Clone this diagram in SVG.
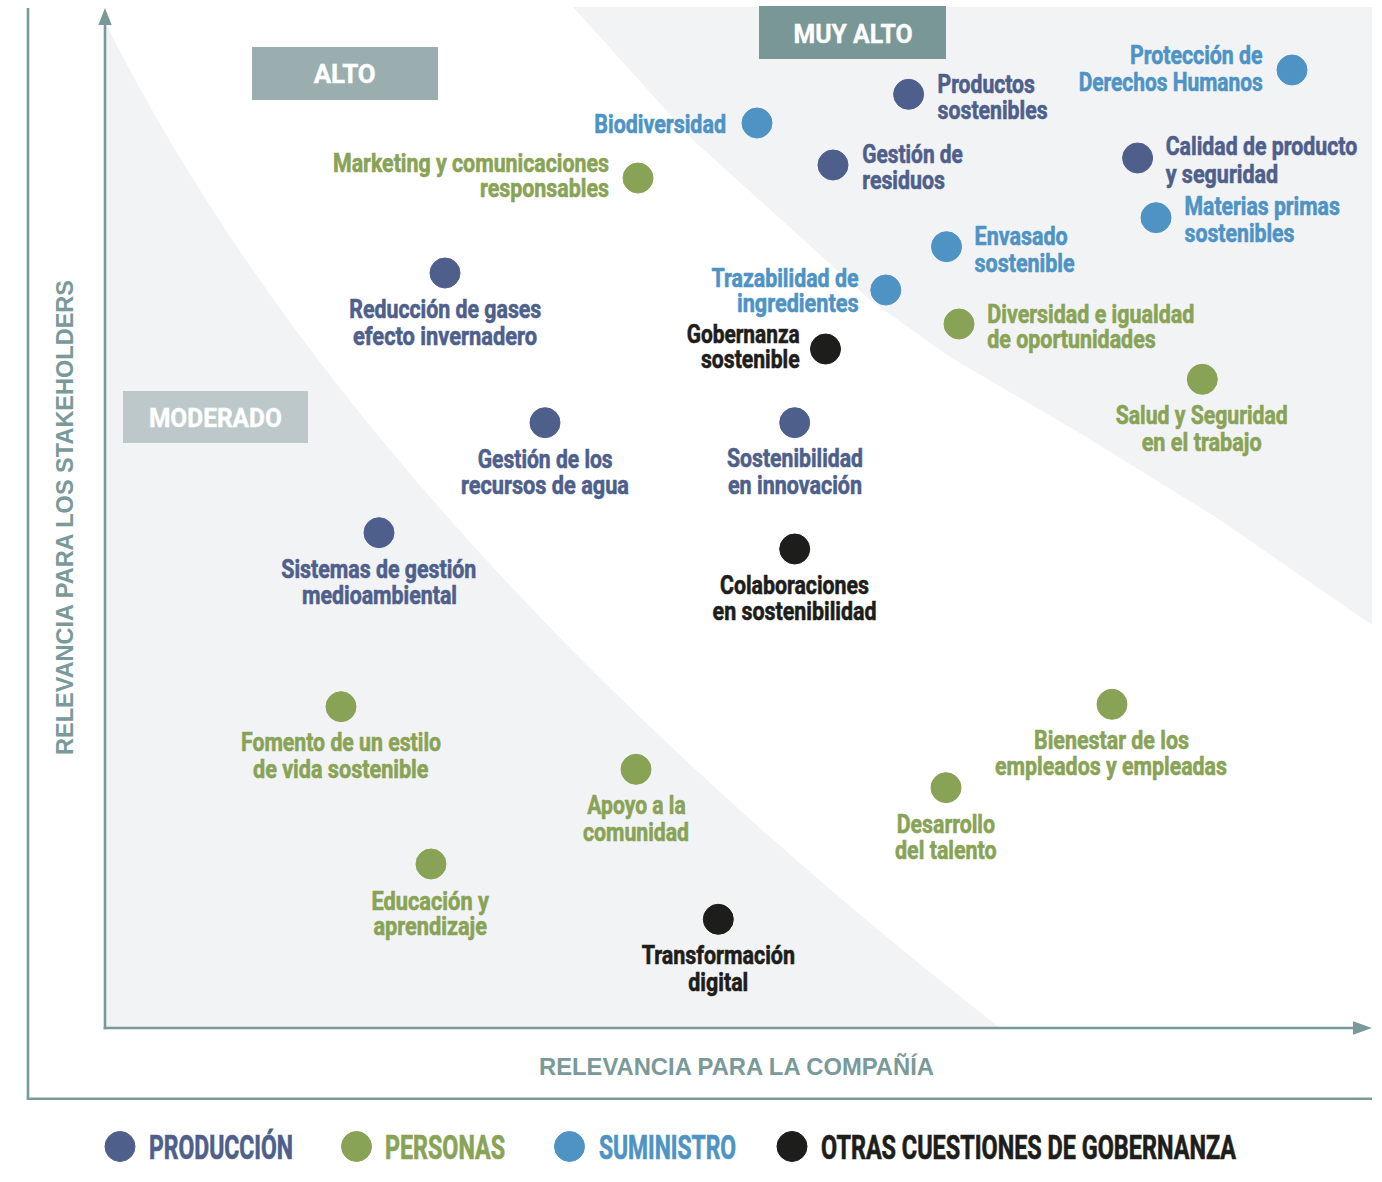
<svg xmlns="http://www.w3.org/2000/svg" width="1382" height="1182" viewBox="0 0 1382 1182">
<defs>
<style>
.t{font-family:Roboto,"Liberation Sans","DejaVu Sans",sans-serif;font-weight:700;font-size:25.5px;stroke-width:0.6px}
.lg{font-family:Roboto,"Liberation Sans","DejaVu Sans",sans-serif;font-weight:700;font-size:32.5px;stroke-width:0.7px}
.bx{font-family:Roboto,"Liberation Sans","DejaVu Sans",sans-serif;font-weight:700;font-size:25.5px;fill:#ffffff;stroke:#ffffff;stroke-width:0.4px;text-anchor:middle}
.ax{font-family:"Liberation Sans",Arial,sans-serif;font-weight:700;font-size:23px;fill:#7a9999}
.prod{fill:#4e5f8b;stroke:#4e5f8b}.pers{fill:#89a356;stroke:#89a356}.sum{fill:#4e93c4;stroke:#4e93c4}.gob{fill:#1d1d1b;stroke:#1d1d1b}
circle{stroke:none}
.line{stroke:#7a9999;stroke-width:2.6;fill:none}
.zone{fill:#f2f3f5}
</style>
</defs>
<rect width="1382" height="1182" fill="#ffffff"/>
<g id="zones">
<path class="zone" d="M573,7 L693,140 L870,300 L950,357 L1083,435 L1217,518 L1372,625 L1372,7 Z"/>
<path class="zone" d="M105,22 Q355,523 1000,1028 L105,1028 Z"/>
</g>
<g id="axes">
<line class="line" x1="28" y1="8" x2="28" y2="1099"/>
<line class="line" x1="26.7" y1="1098.7" x2="1372" y2="1098.7"/>
<line class="line" x1="105" y1="1029.3" x2="105" y2="22"/>
<line class="line" x1="103.7" y1="1028" x2="1356" y2="1028"/>
<polygon points="105,8 98.3,25 111.7,25" fill="#7a9999"/>
<polygon points="1372,1028 1353,1021.3 1353,1034.7" fill="#7a9999"/>
<text class="ax" transform="translate(73,517.5) rotate(-90)" text-anchor="middle" textLength="475" lengthAdjust="spacingAndGlyphs">RELEVANCIA PARA LOS STAKEHOLDERS</text>
<text class="ax" x="539" y="1075" textLength="395" lengthAdjust="spacingAndGlyphs">RELEVANCIA PARA LA COMPAÑÍA</text>
</g>
<g id="level-alto">
<rect x="252" y="47" width="186" height="53" fill="#9aaeb0"/>
<text class="bx" x="344.7" y="83.3" textLength="62" lengthAdjust="spacingAndGlyphs">ALTO</text>
</g>
<g id="level-muy-alto">
<rect x="759" y="6" width="187" height="53" fill="#799797"/>
<text class="bx" x="853" y="42.7" textLength="119" lengthAdjust="spacingAndGlyphs">MUY ALTO</text>
</g>
<g id="level-moderado">
<rect x="123" y="391" width="185" height="52" fill="#bdc8ca"/>
<text class="bx" x="215.4" y="427.3" textLength="133" lengthAdjust="spacingAndGlyphs">MODERADO</text>
</g>

<g id="biodiversidad"><circle class="sum" cx="757" cy="123" r="15"/>
<text class="t sum" x="594.3" y="132.7" textLength="131.7" lengthAdjust="spacingAndGlyphs">Biodiversidad</text></g>
<g id="marketing"><circle class="pers" cx="638" cy="178" r="15"/>
<text class="t pers" x="333" y="171.7" textLength="276" lengthAdjust="spacingAndGlyphs">Marketing y comunicaciones</text>
<text class="t pers" x="480" y="197.3" textLength="129" lengthAdjust="spacingAndGlyphs">responsables</text></g>
<g id="reduccion-gases"><circle class="prod" cx="445" cy="273" r="15"/>
<text class="t prod" x="349.3" y="318.3" textLength="192" lengthAdjust="spacingAndGlyphs">Reducción de gases</text>
<text class="t prod" x="353" y="345.3" textLength="184" lengthAdjust="spacingAndGlyphs">efecto invernadero</text></g>
<g id="gestion-agua"><circle class="prod" cx="545" cy="422.7" r="15"/>
<text class="t prod" x="477.7" y="467.7" textLength="135" lengthAdjust="spacingAndGlyphs">Gestión de los</text>
<text class="t prod" x="461" y="494.3" textLength="168" lengthAdjust="spacingAndGlyphs">recursos de agua</text></g>
<g id="sistemas-gestion"><circle class="prod" cx="379" cy="532.7" r="15"/>
<text class="t prod" x="281.3" y="578.3" textLength="195" lengthAdjust="spacingAndGlyphs">Sistemas de gestión</text>
<text class="t prod" x="302" y="604.3" textLength="155" lengthAdjust="spacingAndGlyphs">medioambiental</text></g>
<g id="fomento"><circle class="pers" cx="341" cy="706.7" r="15"/>
<text class="t pers" x="241" y="751" textLength="200" lengthAdjust="spacingAndGlyphs">Fomento de un estilo</text>
<text class="t pers" x="253" y="777.7" textLength="175.5" lengthAdjust="spacingAndGlyphs">de vida sostenible</text></g>
<g id="apoyo-comunidad"><circle class="pers" cx="636" cy="769.3" r="15"/>
<text class="t pers" x="587.3" y="814.3" textLength="98.4" lengthAdjust="spacingAndGlyphs">Apoyo a la</text>
<text class="t pers" x="583" y="840.7" textLength="106" lengthAdjust="spacingAndGlyphs">comunidad</text></g>
<g id="educacion"><circle class="pers" cx="431" cy="864" r="15"/>
<text class="t pers" x="371.5" y="909.5" textLength="117.5" lengthAdjust="spacingAndGlyphs">Educación y</text>
<text class="t pers" x="373.5" y="935" textLength="113.5" lengthAdjust="spacingAndGlyphs">aprendizaje</text></g>
<g id="transformacion-digital"><circle class="gob" cx="718.3" cy="919.3" r="15"/>
<text class="t gob" x="641.7" y="964.3" textLength="153.3" lengthAdjust="spacingAndGlyphs">Transformación</text>
<text class="t gob" x="688.3" y="990.7" textLength="60" lengthAdjust="spacingAndGlyphs">digital</text></g>
<g id="desarrollo-talento"><circle class="pers" cx="946" cy="787.7" r="15"/>
<text class="t pers" x="896.7" y="833.3" textLength="98.3" lengthAdjust="spacingAndGlyphs">Desarrollo</text>
<text class="t pers" x="895" y="859" textLength="101.7" lengthAdjust="spacingAndGlyphs">del talento</text></g>
<g id="bienestar"><circle class="pers" cx="1112" cy="704.3" r="15"/>
<text class="t pers" x="1034" y="749" textLength="155" lengthAdjust="spacingAndGlyphs">Bienestar de los</text>
<text class="t pers" x="995" y="775" textLength="232" lengthAdjust="spacingAndGlyphs">empleados y empleadas</text></g>
<g id="sostenibilidad-innovacion"><circle class="prod" cx="794.7" cy="422.7" r="15"/>
<text class="t prod" x="727" y="467.3" textLength="136" lengthAdjust="spacingAndGlyphs">Sostenibilidad</text>
<text class="t prod" x="728" y="494.3" textLength="134" lengthAdjust="spacingAndGlyphs">en innovación</text></g>
<g id="colaboraciones"><circle class="gob" cx="794.7" cy="549" r="15"/>
<text class="t gob" x="720" y="593.7" textLength="149" lengthAdjust="spacingAndGlyphs">Colaboraciones</text>
<text class="t gob" x="712.6" y="620" textLength="164" lengthAdjust="spacingAndGlyphs">en sostenibilidad</text></g>
<g id="salud-seguridad"><circle class="pers" cx="1202.3" cy="379.3" r="15"/>
<text class="t pers" x="1115.7" y="424.3" textLength="172" lengthAdjust="spacingAndGlyphs">Salud y Seguridad</text>
<text class="t pers" x="1141.7" y="450.7" textLength="120" lengthAdjust="spacingAndGlyphs">en el trabajo</text></g>
<g id="diversidad"><circle class="pers" cx="959" cy="324" r="15"/>
<text class="t pers" x="987.3" y="322.7" textLength="207" lengthAdjust="spacingAndGlyphs">Diversidad e igualdad</text>
<text class="t pers" x="987.3" y="348.3" textLength="168.4" lengthAdjust="spacingAndGlyphs">de oportunidades</text></g>
<g id="gobernanza"><circle class="gob" cx="825.5" cy="349" r="15"/>
<text class="t gob" x="686.7" y="342.7" textLength="113" lengthAdjust="spacingAndGlyphs">Gobernanza</text>
<text class="t gob" x="701" y="368.3" textLength="98.6" lengthAdjust="spacingAndGlyphs">sostenible</text></g>
<g id="trazabilidad"><circle class="sum" cx="885.8" cy="290" r="15"/>
<text class="t sum" x="711.5" y="286.7" textLength="147" lengthAdjust="spacingAndGlyphs">Trazabilidad de</text>
<text class="t sum" x="737" y="311.7" textLength="121.6" lengthAdjust="spacingAndGlyphs">ingredientes</text></g>
<g id="envasado"><circle class="sum" cx="946.5" cy="246.7" r="15"/>
<text class="t sum" x="974.6" y="245" textLength="93" lengthAdjust="spacingAndGlyphs">Envasado</text>
<text class="t sum" x="974.6" y="271.7" textLength="100" lengthAdjust="spacingAndGlyphs">sostenible</text></g>
<g id="gestion-residuos"><circle class="prod" cx="833" cy="165" r="15"/>
<text class="t prod" x="862.3" y="162.7" textLength="100.5" lengthAdjust="spacingAndGlyphs">Gestión de</text>
<text class="t prod" x="862.3" y="189.3" textLength="82.6" lengthAdjust="spacingAndGlyphs">residuos</text></g>
<g id="productos-sostenibles"><circle class="prod" cx="908.6" cy="94.3" r="15"/>
<text class="t prod" x="937.6" y="92.7" textLength="97.3" lengthAdjust="spacingAndGlyphs">Productos</text>
<text class="t prod" x="937.6" y="119.3" textLength="110" lengthAdjust="spacingAndGlyphs">sostenibles</text></g>
<g id="derechos-humanos"><circle class="sum" cx="1292" cy="70" r="15"/>
<text class="t sum" x="1130" y="64.3" textLength="132.6" lengthAdjust="spacingAndGlyphs">Protección de</text>
<text class="t sum" x="1078.7" y="90.7" textLength="184" lengthAdjust="spacingAndGlyphs">Derechos Humanos</text></g>
<g id="calidad-producto"><circle class="prod" cx="1137.6" cy="158" r="15"/>
<text class="t prod" x="1165.7" y="155" textLength="191.5" lengthAdjust="spacingAndGlyphs">Calidad de producto</text>
<text class="t prod" x="1165.7" y="182.7" textLength="112.5" lengthAdjust="spacingAndGlyphs">y seguridad</text></g>
<g id="materias-primas"><circle class="sum" cx="1156" cy="217.7" r="15"/>
<text class="t sum" x="1184.5" y="215" textLength="155.3" lengthAdjust="spacingAndGlyphs">Materias primas</text>
<text class="t sum" x="1184.5" y="241.7" textLength="110" lengthAdjust="spacingAndGlyphs">sostenibles</text></g>

<g id="legend">
<g id="legend-produccion"><circle class="prod" cx="120" cy="1146.5" r="15"/>
<text class="lg prod" x="149" y="1159.3" textLength="144" lengthAdjust="spacingAndGlyphs">PRODUCCIÓN</text></g>
<g id="legend-personas"><circle class="pers" cx="356.5" cy="1146.5" r="15"/>
<text class="lg pers" x="385" y="1159.3" textLength="120" lengthAdjust="spacingAndGlyphs">PERSONAS</text></g>
<g id="legend-suministro"><circle class="sum" cx="569.5" cy="1146.5" r="15"/>
<text class="lg sum" x="599" y="1159.3" textLength="137" lengthAdjust="spacingAndGlyphs">SUMINISTRO</text></g>
<g id="legend-gobernanza"><circle class="gob" cx="792" cy="1146.5" r="15"/>
<text class="lg gob" x="821" y="1159.3" textLength="415" lengthAdjust="spacingAndGlyphs">OTRAS CUESTIONES DE GOBERNANZA</text></g>
</g>
</svg>
